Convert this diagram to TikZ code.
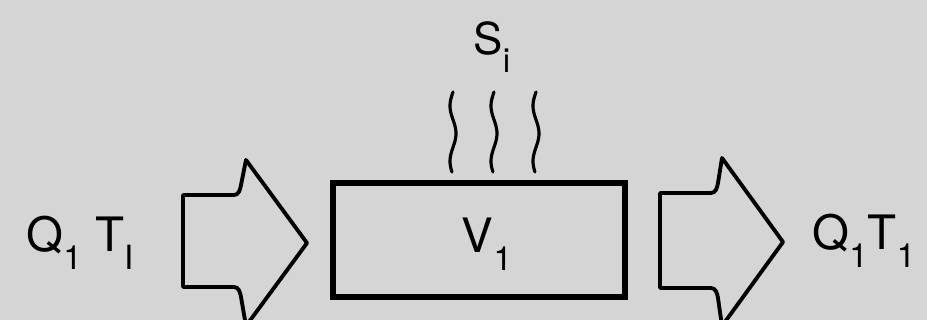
\documentclass[tikz,border=0pt]{standalone}
\usepackage{fontspec}
\setmainfont{TeX Gyre Heros}
\usetikzlibrary{positioning}
\definecolor{papergray}{RGB}{213,213,213}
\newcommand{\lowsub}[1]{\raisebox{-10pt}{\fontsize{19}{20}\selectfont #1}}

\begin{document}
\begin{tikzpicture}[x=0.02cm, y=-0.02cm,
    label/.style={inner sep=0pt, font=\fontsize{27}{30}\selectfont},
    flowarrow/.style={draw=black, line width=2.2pt, line join=round},
    wave/.style={draw=black, line width=1.8pt, line cap=round}]
  % background
  \fill[papergray] (0,0) rectangle (927,320);
  \useasboundingbox (0,0) rectangle (927,320);
  \clip (0,0) rectangle (927,320);
  % volume
  \node[draw, line width=3pt, minimum width=5.84cm, minimum height=2.28cm, inner sep=0pt] (vol) at (479,240) {};
  \node[label, anchor=base] (vlabel) at (487,253) {V\lowsub{1}};
  % inflow arrow
  \draw[flowarrow] (183,195) -- (234,195) to[out=0,in=-100] (241,185) -- (246,160) -- (307,243)
    -- (246,326) -- (241,297) to[out=100,in=0] (234,287) -- (183,287) -- cycle;
  % outflow arrow
  \draw[flowarrow] (660,193) -- (711,193) to[out=0,in=-100] (718,183) -- (722,158) -- (783,242)
    -- (722,326) -- (718,298) to[out=100,in=0] (711,288) -- (660,288) -- cycle;
  % labels
  \node[label, anchor=base] (qin) at (80,252) {Q\lowsub{1} T\lowsub{I}};
  \node[label, anchor=base] (qout) at (864,250) {Q\lowsub{1}T\lowsub{1}};
  \node[label, anchor=base, font=\fontsize{25}{28}\selectfont] (src) at (492,55) {S\lowsub{i}};
  % source waves
  \foreach \wx in {453,494,536}
    \draw[wave] plot[domain=92:172, samples=40, smooth] ({\wx-3*sin(6.5*(\x-92))}, \x);
\end{tikzpicture}
\end{document}
